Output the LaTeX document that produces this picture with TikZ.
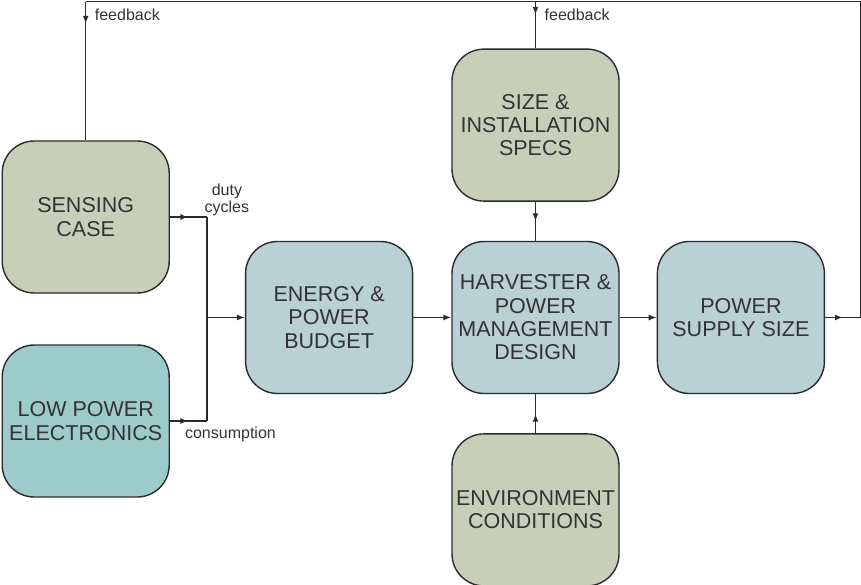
\documentclass[tikz,border=0pt]{standalone}
\usepackage{fontspec}
\setmainfont{Liberation Sans}
\usetikzlibrary{positioning,arrows.meta,decorations.markings}
\definecolor{boxgreen}{HTML}{C7CFB8}
\definecolor{boxblue}{HTML}{B9D0D4}
\definecolor{boxteal}{HTML}{9DCBCC}
\definecolor{linegray}{HTML}{2B2B2B}
\definecolor{textgray}{HTML}{333333}

\begin{document}
\begin{tikzpicture}[x=1pt, y=-1pt, node distance=38pt,
  box/.style={draw=linegray, line width=1.4pt, rounded corners=32pt, minimum width=167pt, minimum height=152pt, inner sep=0pt, align=center, text=textgray, font=\fontsize{21.5}{23.3}\selectfont},
  inbox/.style={box, fill=boxgreen},
  calcbox/.style={box, fill=boxblue},
  elecbox/.style={box, fill=boxteal},
  lbl/.style={inner sep=0pt, text=textgray, font=\fontsize{16}{17}\selectfont},
  wire/.style={draw, color=linegray, line width=1.4pt},
  tipat/.style={wire, postaction={decorate}, decoration={markings, mark=at position #1 with {\arrow{Latex[length=8pt,width=6pt]}}}},
  tipend/.style={wire, -{Latex[length=8pt,width=6pt]}}]
 \useasboundingbox (0,0) rectangle (861,585);

 \node (harv)    [calcbox] at (535.5,317.5) {HARVESTER \&\\POWER\\MANAGEMENT\\DESIGN};
 \node (energy)  [calcbox, left=of harv]     {ENERGY \&\\POWER\\BUDGET};
 \node (power)   [calcbox, right=37pt of harv] {POWER\\SUPPLY SIZE};
 \node (size)    [inbox, above=39pt of harv] {SIZE \&\\INSTALLATION\\SPECS};
 \node (env)     [inbox, below=39pt of harv] {ENVIRONMENT\\CONDITIONS};
 \node (sensing) [inbox, left=75pt of energy, yshift=100.5pt]  {SENSING\\CASE};
 \node (lpe)     [elecbox, left=75pt of energy, yshift=-103.5pt] {LOW POWER\\ELECTRONICS};

 \node (join)    [coordinate, left=of energy] {};
 \node (fbright) [coordinate, right=35.5pt of power] {};
 \node (fbtop)   [coordinate, above=239pt of harv] {};
 \coordinate (dutyc)   at (sensing -| join);
 \coordinate (consc)   at (lpe -| join);
 \coordinate (fbleft)  at (sensing |- fbtop);

 \node (fb1)  [lbl, anchor=base west] at ([shift={(9pt,-19pt)}]fbleft) {feedback};
 \node (fb2)  [lbl, anchor=base west] at ([shift={(9pt,-19pt)}]fbtop) {feedback};
 \node (duty) [lbl, align=center, anchor=south] at ([shift={(20pt,0.5pt)}]dutyc) {duty\\cycles};
 \node (cons) [lbl, anchor=base west] at ([shift={(15pt,-17pt)}]lpe.east) {consumption};

 \draw[tipat=0.5] (sensing) -- (dutyc);
 \draw[tipat=0.5] (lpe) -- (consc);
 \draw[wire] (dutyc) -- (consc);
 \draw[tipend] (join) -- (energy);
 \draw[tipend] (energy) -- (harv);
 \draw[tipend] (harv) -- (power);
 \draw[tipat=0.5] (size) -- (harv);
 \draw[tipat=0.5] (env) -- (harv);
 \draw[tipat=0.5] (power) -- (fbright);
 \draw[wire] (fbright) |- (fbleft);
 \draw[tipat=22pt] (fbleft) -- (sensing);
 \draw[tipat=13pt] (fbtop) -- (size);
\end{tikzpicture}
\end{document}
